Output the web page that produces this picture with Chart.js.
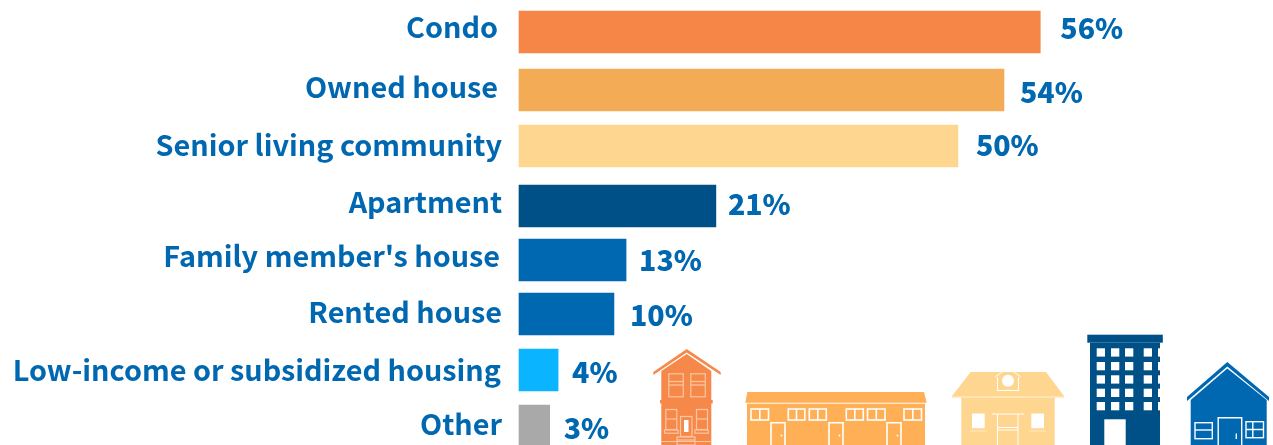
<!DOCTYPE html>
<html>
<head>
<meta charset="utf-8">
<style>
  html, body { margin: 0; padding: 0; background: #fff; overflow: hidden; }
  #wrap { position: relative; width: 1273px; height: 445px; overflow: hidden; }
  #grafico { position: absolute; left: 0; top: 0; }
  #casas { position: absolute; left: 0; top: 0; pointer-events: none; }
</style>
</head>
<body>
<div id="wrap">
  <canvas id="grafico" width="1273" height="448"></canvas>
  <svg id="casas" width="1273" height="445" viewBox="0 0 1273 445">
    <!-- condo -->
    <g fill="#F6894A">
      <path d="M686.7 349 L720.7 372 L720.7 375 L686.7 352.5 L653.3 375 L653.3 372 Z"/>
      <path d="M686.7 354 L711.3 371 V445 H661.3 V371 Z"/>
      <rect x="660" y="400" width="52.7" height="3.4"/>
      <g fill="none" stroke="#FBC6A4" stroke-width="1.2">
        <rect x="668.8" y="373.8" width="14.5" height="23"/><path d="M668.8 381.5 H683.3"/><path d="M668.8 385 H683.3"/>
        <rect x="690.8" y="373.8" width="14.5" height="23"/><path d="M690.8 381.5 H705.3"/><path d="M690.8 385 H705.3"/>
        <rect x="665.8" y="409.5" width="11" height="20"/><path d="M665.8 419 H676.8"/>
        <rect x="696.5" y="409.5" width="11" height="20"/><path d="M696.5 419 H707.5"/>
        <rect x="664.5" y="430" width="13.5" height="3.2"/><rect x="694.8" y="430" width="13.5" height="3.2"/>
        <rect x="680.5" y="416.5" width="11.5" height="20"/>
        <rect x="677" y="437" width="18" height="8"/><path d="M677 440 H695"/><path d="M661.3 441.5 H711.3"/>
      </g>
      <rect x="684" y="420" width="4.5" height="12" fill="#fff"/>
    </g>
    <!-- row houses -->
    <g fill="#FFAF55">
      <path d="M747.3 392 H924 L926.7 402.7 H745.3 Z"/>
      <rect x="747" y="403.7" width="178" height="41.3"/>
      <g fill="none" stroke="#fff" stroke-width="1.6">
        <rect x="751" y="409" width="17.5" height="11"/><path d="M759.8 409 V420"/>
        <rect x="788.3" y="409" width="16.5" height="11"/><path d="M796.5 409 V420"/>
        <rect x="809.3" y="409" width="17" height="11"/><path d="M817.8 409 V420"/>
        <rect x="846.3" y="409" width="17" height="11"/><path d="M854.8 409 V420"/>
        <rect x="867.5" y="409" width="17.5" height="11"/><path d="M876.3 409 V420"/>
        <rect x="904" y="409" width="17.5" height="11"/><path d="M912.8 409 V420"/>
        <path d="M771 446 V422.7 H785 V446"/><path d="M829 446 V422.7 H843 V446"/><path d="M887 446 V422.7 H901 V446"/>
      </g>
      <g fill="#fff">
        <circle cx="781.5" cy="435.5" r="1"/><circle cx="839.5" cy="435.5" r="1"/><circle cx="897.5" cy="435.5" r="1"/>
      </g>
    </g>
    <!-- senior living -->
    <g fill="#FFD68F">
      <path d="M970.7 372 H1046 L1064 396 H952 Z"/>
      <rect x="952" y="396" width="112" height="1.7" fill="#FFE3B2"/>
      <rect x="961.3" y="397.7" width="93.4" height="47.3"/>
      <g fill="none" stroke="#fff" stroke-width="1">
        <path d="M995.3 377 L1008 367.5 L1020.7 377"/>
        <path d="M997.5 377 V390.5 H1018.5 V377"/>
        <path d="M992 414 H1024 M997.5 414 V445 M1018 414 V445 M997.5 427.5 H1018 M997.5 430 H1018"/>
      </g>
      <g fill="none" stroke="#FFE9C6" stroke-width="1">
        <path d="M969.5 431 H986.5 M1029.5 431 H1046.5"/>
      </g>
      <circle cx="1008" cy="380.7" r="6" fill="#fff"/>
      <rect x="972" y="413.5" width="12.7" height="14.7" fill="#fff"/>
      <rect x="1031.3" y="413.5" width="12.7" height="14.7" fill="#fff"/>
    </g>
    <!-- apartment -->
    <g>
      <rect x="1087.3" y="334.7" width="75.5" height="8" fill="#005088"/>
      <rect x="1090" y="342.7" width="70" height="102.3" fill="#005088"/>
      <g fill="#fff" id="ventanas"></g>
      <rect x="1104.3" y="419.3" width="21.4" height="25.7" fill="#fff"/>
    </g>
    <!-- rented house -->
    <g fill="#0067B1">
      <path d="M1227.3 362 L1269 397 V401 L1227.3 366.5 L1187 401 V397 Z"/>
      <path d="M1227.3 368.5 L1266.7 400 V445 H1190.7 V400 Z"/>
      <g fill="none" stroke="#fff" stroke-width="1.4">
        <rect x="1195" y="422.7" width="17.3" height="16"/><path d="M1195 430 H1212.3"/>
        <path d="M1218.2 446 V417.7 H1241.7 V446"/>
        <rect x="1246" y="421.7" width="17.5" height="16"/><path d="M1246 429.5 H1263.5 M1252.8 421.7 V437.7"/>
        <path d="M1236.3 433.5 V439"/>
      </g>
    </g>
  </svg>
</div>
<script src="https://cdn.jsdelivr.net/npm/chart.js@4"></script>
<script>
const categorias = ['Condo', 'Owned house', 'Senior living community', 'Apartment', "Family member's house", 'Rented house', 'Low-income or subsidized housing', 'Other'];
const rotulos = ['56%', '54%', '50%', '21%', '13%', '10%', '4%', '3%'];
// the bars in the source are not quite to scale, so lengths are read off the picture on the Condo scale
const comprimentos = [56, 52.1, 47.15, 21.15, 11.5, 10.2, 4.2, 3.3];
const cores = ['#F68647', '#F4AB56', '#FFD68F', '#005088', '#0068B0', '#0068B0', '#0AB4FF', '#A9A9A9'];

// hand placed rows in the source: pixel nudges away from the even category grid
const deslocBarra = [4, 6, 6, 10, 8, 6, 6, 6];
const deslocNome = [[-3, -1], [-3, 3], [1, 5], [1, 6], [-1, 4], [1, 4], [0, 6], [1, 4]];
const deslocValor = [[0, -4], [0, 2], [0, -1], [0, -2], [0, 0], [0, 1], [0, 2], [0, 2]];
const folgaValor = [20, 16, 18, 12, 13, 16, 14, 14];

const ventanas = document.getElementById('ventanas');
[1096.7, 1111, 1125, 1143.7, 1158].forEach(x => {
  [348.3, 362, 375.3, 388.7, 402].forEach(y => {
    const r = document.createElementNS('http://www.w3.org/2000/svg', 'rect');
    r.setAttribute('x', x);
    r.setAttribute('y', y);
    r.setAttribute('width', x > 1150 ? 2 : 8.3);
    r.setAttribute('height', 8.3);
    ventanas.appendChild(r);
  });
});

const ajustesLinhas = {
  id: 'ajustesLinhas',
  afterDatasetsUpdate(chart) {
    chart.getDatasetMeta(0).data.forEach((barra, i) => { barra.y += deslocBarra[i]; });
  },
  beforeDraw(chart) {
    const itens = chart.scales.y.getLabelItems(chart.chartArea);
    if (itens.ajustado) return;
    itens.ajustado = true;
    itens.forEach((item, i) => {
      item.options.translation = [item.options.translation[0] + deslocNome[i][0], item.options.translation[1] + deslocNome[i][1]];
    });
  },
  afterDatasetsDraw(chart) {
    const { ctx } = chart;
    ctx.save();
    ctx.font = '900 28.5px "Noto Sans CJK SC"';
    ctx.fillStyle = '#0067B1';
    ctx.textAlign = 'left';
    ctx.textBaseline = 'middle';
    chart.getDatasetMeta(0).data.forEach((barra, i) => {
      ctx.fillText(rotulos[i], barra.x + folgaValor[i] + deslocValor[i][0], barra.y + deslocValor[i][1]);
    });
    ctx.restore();
  }
};

new Chart(document.getElementById('grafico'), {
  type: 'bar',
  data: {
    labels: categorias,
    datasets: [{
      data: comprimentos,
      backgroundColor: cores,
      barThickness: 42,
      clip: false
    }]
  },
  options: {
    indexAxis: 'y',
    responsive: false,
    animation: false,
    layout: { padding: 0 },
    plugins: { legend: { display: false }, tooltip: { enabled: false } },
    scales: {
      x: {
        display: false,
        min: 0,
        max: 81
      },
      y: {
        afterFit(escala) {
          escala.width = 519;
          escala.paddingTop = 0;
          escala.paddingBottom = 0;
        },
        grid: { display: false, drawTicks: false },
        border: { display: false },
        ticks: {
          color: '#0067B1',
          padding: 18,
          autoSkip: false,
          font: { family: '"Noto Sans CJK SC"', size: 28.8, weight: '700' }
        }
      }
    }
  },
  plugins: [ajustesLinhas]
});
</script>
</body>
</html>
